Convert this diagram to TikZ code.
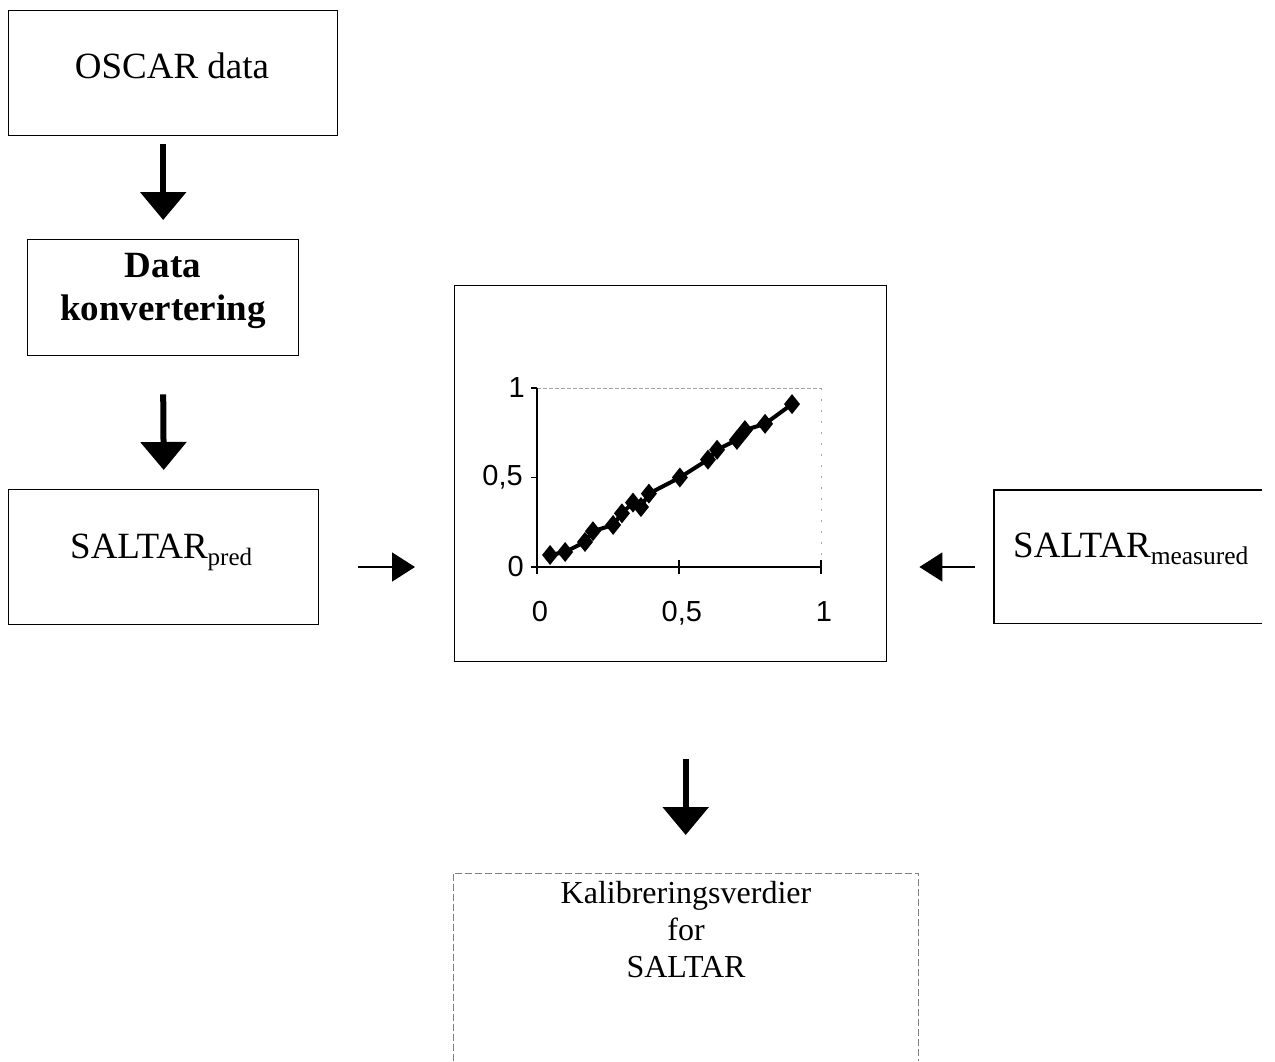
\documentclass[tikz,border=0pt]{standalone}
\usepackage{fontspec}
\setmainfont{Liberation Serif}
\newfontfamily\arialfont{Liberation Sans}
\usetikzlibrary{arrows.meta}
\begin{document}
\begin{tikzpicture}[x=1pt,y=-1pt,
  box/.style={draw, line width=1.4pt, inner sep=0pt, anchor=north west},
  openbox/.style={inner sep=0pt, anchor=north west},
  txt/.style={inner sep=0pt, anchor=base, font=\fontsize{37}{43}\selectfont},
  kaltxt/.style={inner sep=0pt, anchor=base, font=\fontsize{32}{37}\selectfont},
  boldtxt/.style={inner sep=0pt, anchor=base, font=\fontsize{37}{43}\selectfont\bfseries},
  tick/.style={inner sep=0pt, font=\arialfont\fontsize{29}{32}\selectfont},
  bigarrow/.style={line width=6pt, -{Triangle[length=28pt,width=45pt]}},
  smallarrow/.style={line width=1.6pt, -{Triangle[length=23pt,width=29pt]}},
]
\useasboundingbox (0,0) rectangle (1275,1061);

% boxes
\node[box, minimum width=329pt, minimum height=125pt] (oscar) at (8,10) {};
\node[box, minimum width=271pt, minimum height=116pt] (conv) at (27,239) {};
\node[box, minimum width=310pt, minimum height=135pt] (pred) at (8,489) {};
\node[box, minimum width=432pt, minimum height=376pt] (chart) at (454,285) {};
\node[openbox, minimum width=268pt, minimum height=133pt] (meas) at (994,490) {};
\draw[line width=1.4pt] (meas.north east) -- (meas.north west) -- (meas.south west) -- (meas.south east);
\node[openbox, minimum width=465pt, minimum height=188pt] (kal) at (453,873) {};
\draw[line width=1pt, gray, dash pattern=on 7pt off 3pt] (kal.south west) -- (kal.north west) -- (kal.north east) -- (kal.south east);

% texts
\node[txt] (toscar) at (172,78) {OSCAR data};
\node[boldtxt] (tdata) at (163,277) {Data};
\node[boldtxt] (tkonv) at (163,320) {konvertering};
\node[txt, anchor=base west] (tpred) at (70,558) {SALTAR\raisebox{-7pt}{\fontsize{25}{28}\selectfont pred}};
\node[txt, anchor=base west] (tmeas) at (1013,557) {SALTAR\raisebox{-7pt}{\fontsize{25.5}{28}\selectfont measured}};
\node[kaltxt] (tkal1) at (686,903) {Kalibreringsverdier};
\node[kaltxt] (tkal2) at (686,940) {for};
\node[kaltxt] (tkal3) at (686,977) {SALTAR};

% chart
\coordinate (o) at (537,567);
\begin{scope}[shift={(o)}, x=284pt, y=179pt]
  \draw[gray!70, line width=0.9pt, dash pattern=on 4pt off 2pt] (0,1) -- (1,1);
  \draw[gray!70, line width=0.9pt, dash pattern=on 2pt off 9pt] (1,1) -- (1,0);
  \draw[line width=1.3pt] (0,1) -- (0,0) -- (1,0);
  \foreach \v in {0,0.5,1} {
    \draw[line width=1.3pt] ([xshift=-6pt]0,\v) -- (0,\v);
    \draw[line width=1.3pt] ([yshift=7pt]\v,0) -- ([yshift=-7pt]\v,0);
  }
  \node[tick, anchor=east] (ly0) at ([xshift=-13pt]0,0) {0};
  \node[tick, anchor=east] (ly5) at ([xshift=-14pt]0,0.5) {0,5};
  \node[tick, anchor=east] (ly1) at ([xshift=-12pt]0,1) {1};
  \node[tick, anchor=base] (lx0) at ([yshift=-54pt]0.01,0) {0};
  \node[tick, anchor=base] (lx5) at ([yshift=-54pt]0.51,0) {0,5};
  \node[tick, anchor=base] (lx1) at ([yshift=-54pt]1.01,0) {1};
  \draw[line width=4pt, line join=round]
    plot coordinates {(0.046,0.067) (0.099,0.084) (0.169,0.14) (0.197,0.20) (0.268,0.235)
      (0.299,0.30) (0.338,0.36) (0.366,0.335) (0.394,0.41) (0.503,0.50) (0.602,0.60)
      (0.634,0.655) (0.704,0.71) (0.732,0.765) (0.803,0.80) (0.898,0.91)};
  \foreach \px/\py in {0.046/0.067, 0.099/0.084, 0.169/0.14, 0.197/0.20, 0.268/0.235,
      0.299/0.30, 0.338/0.36, 0.366/0.335, 0.394/0.41, 0.503/0.50, 0.602/0.60,
      0.634/0.655, 0.704/0.71, 0.732/0.765, 0.803/0.80, 0.898/0.91} {
    \fill ([yshift=10pt]\px,\py) -- ([xshift=8pt]\px,\py) -- ([yshift=-10pt]\px,\py) -- ([xshift=-8pt]\px,\py) -- cycle;
  }
\end{scope}

% arrows
\draw[bigarrow] ([yshift=-8pt]conv.north |- oscar.south) -- ([yshift=19pt]conv.north);
\draw[bigarrow] ([yshift=-38pt]conv.south) -- ([yshift=19pt]pred.north);
\draw[bigarrow] ([yshift=-97pt]kal.north |- chart.south) -- ([yshift=38pt]kal.north);
\draw[smallarrow] ([xshift=39pt]pred.east |- o) -- ([xshift=-39pt]chart.west |- o);
\draw[smallarrow] ([xshift=-19pt]meas.west |- o) -- ([xshift=32pt]chart.east |- o);
\end{tikzpicture}
\end{document}
